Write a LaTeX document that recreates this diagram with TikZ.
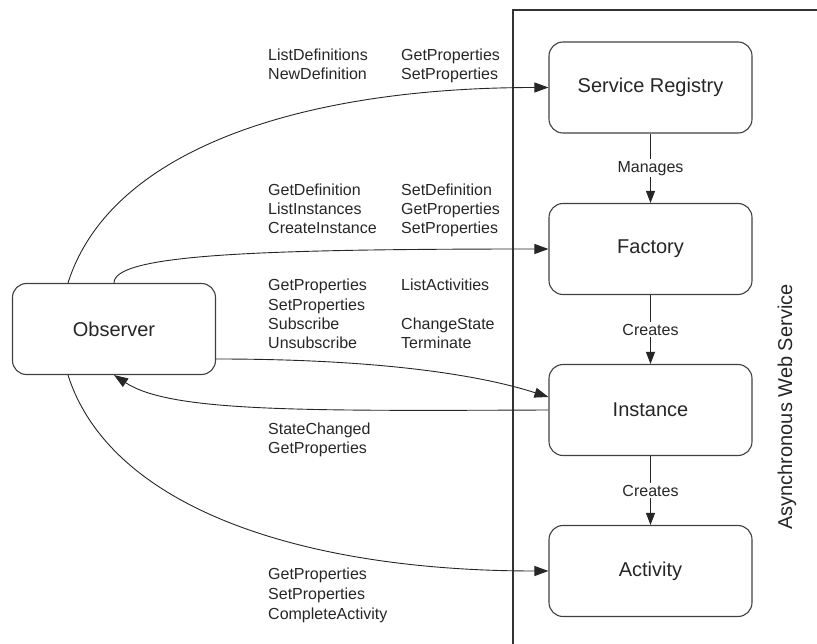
\documentclass[tikz,border=0pt]{standalone}
\usepackage{fontspec}
\setmainfont{Liberation Sans}
\usetikzlibrary{arrows.meta,calc}
\begin{document}
\begin{tikzpicture}[x=1pt,y=-1pt,
  box/.style={draw=black!75, line width=1.1pt, rounded corners=14pt,
    minimum width=203pt, minimum height=91pt, inner sep=0pt,
    font=\fontsize{20}{24}\selectfont, text=black!85},
  lbl/.style={anchor=base west, inner sep=0pt,
    font=\fontsize{16}{19}\selectfont, text=black!85},
  conn/.style={draw=black!85, line width=0.9pt,
    -{Triangle[length=14pt,width=10pt]}},
  down/.style={draw=black!85, line width=0.9pt,
    -{Triangle[length=12pt,width=9pt]}},
  tag/.style={fill=white, inner sep=2pt,
    font=\fontsize{16}{19}\selectfont, text=black!85}
]
\useasboundingbox (0,0) rectangle (817,644);

% service container (open to the right and below)
\coordinate (fb) at (513,644);
\coordinate (ft) at (513,10);
\coordinate (fr) at (817,10);
\draw[black!80, line width=1.2pt] (fb) -- (ft) -- (fr);
\node[rotate=90, font=\fontsize{20}{24}\selectfont, text=black!85] (aws) at (787,407) {Asynchronous Web Service};

% components
\node[box] (sr)  at (650.5,87.5) {Service Registry};
\node[box] (fac) at (650.5,249)  {Factory};
\node[box] (ins) at (650.5,410)  {Instance};
\node[box] (act) at (650.5,571)  {Activity};
\node[box] (obs) at (114,329)    {Observer};

% lifecycle relations
\draw[down] (sr)  -- node[tag] (m1) {Manages} (fac);
\draw[down] (fac) -- node[tag] (c1) {Creates} (ins);
\draw[down] (ins) -- node[tag] (c2) {Creates} (act);

% observer interactions
\draw[conn] ($(obs.north)+(-46,0)$) .. controls (110,150) and (300,87.5) .. (sr.west);
\draw[conn] (obs.north) .. controls (114,255) and (250,249) .. (fac.west);
\draw[conn] ($(obs.east)+(0,30)$) .. controls (380,359) and (480,375) .. ($(ins.west)+(0,-13)$);
\draw[conn] (ins.west) .. controls (300,411) and (170,412) .. (obs.south);
\draw[conn] ($(obs.south)+(-46,0)$) .. controls (110,507) and (300,571) .. (act.west);

% operation lists
\foreach \t [count=\i] in {ListDefinitions,NewDefinition}
  \node[lbl] (ra\i) at (268,{61+19*(\i-1)}) {\t};
\foreach \t [count=\i] in {GetProperties,SetProperties}
  \node[lbl] (rb\i) at (401,{61+19*(\i-1)}) {\t};

\foreach \t [count=\i] in {GetDefinition,ListInstances,CreateInstance}
  \node[lbl] (fa\i) at (268,{196+19*(\i-1)}) {\t};
\foreach \t [count=\i] in {SetDefinition,GetProperties,SetProperties}
  \node[lbl] (fb\i) at (401,{196+19*(\i-1)}) {\t};

\foreach \t [count=\i] in {GetProperties,SetProperties,Subscribe,Unsubscribe}
  \node[lbl] (ia\i) at (268,{291+19.3*(\i-1)}) {\t};
\node[lbl] (ib1) at (401,291) {ListActivities};
\node[lbl] (ib3) at (401,329.6) {ChangeState};
\node[lbl] (ib4) at (401,348.9) {Terminate};

\foreach \t [count=\i] in {StateChanged,GetProperties}
  \node[lbl] (sa\i) at (268,{434+19.5*(\i-1)}) {\t};

\foreach \t [count=\i] in {GetProperties,SetProperties,CompleteActivity}
  \node[lbl] (aa\i) at (268,{579+20*(\i-1)}) {\t};
\end{tikzpicture}
\end{document}
